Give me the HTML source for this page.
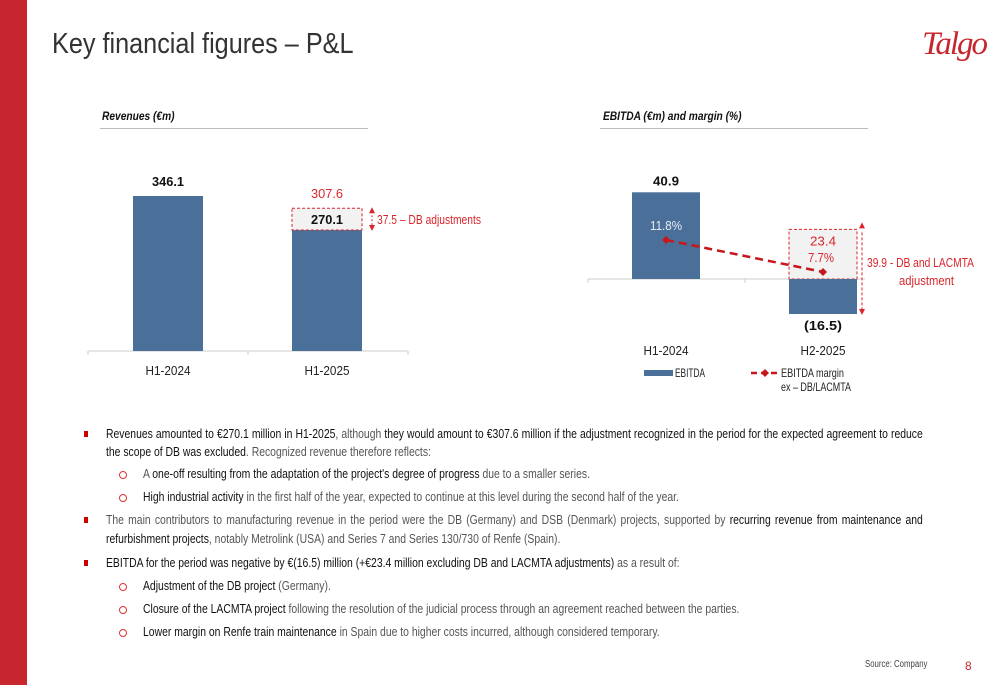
<!DOCTYPE html>
<html><head><meta charset="utf-8">
<style>
body{margin:0;width:1000px;height:685px;position:relative;background:#fff;overflow:hidden;font-family:"Liberation Sans",sans-serif;}
.abs{position:absolute;white-space:nowrap;}
.ln{position:absolute;font-size:13px;color:#555;white-space:nowrap;line-height:16px;transform:scaleX(0.8);transform-origin:0 0;}
.ln b{font-weight:normal;color:#111;}
.j{width:1021px;text-align:justify;text-align-last:justify;}
.sq{position:absolute;width:4px;height:6px;background:#c00;}
.ci{position:absolute;width:6px;height:6px;border:1px solid #d33;border-radius:50%;}
</style></head><body>
<div style="position:absolute;left:0;top:0;width:27px;height:685px;background:#c8262e"></div>
<div class="abs" style="left:52px;top:28px;font-size:29px;color:#333;transform:scaleX(0.87);transform-origin:0 0">Key financial figures – P&amp;L</div>
<div class="abs" style="left:922px;top:26px;font-size:33px;color:#c8262e;font-family:'Liberation Serif',serif;font-style:italic;letter-spacing:-2px">Talgo</div>

<div class="abs" style="left:102px;top:109px;font-size:12px;font-weight:bold;font-style:italic;color:#111;transform:scaleX(0.85);transform-origin:0 0">Revenues (€m)</div>
<div style="position:absolute;left:100px;top:128px;width:268px;height:1px;background:#bbb"></div>
<div class="abs" style="left:603px;top:109px;font-size:12px;font-weight:bold;font-style:italic;color:#111;transform:scaleX(0.85);transform-origin:0 0">EBITDA (€m) and margin (%)</div>
<div style="position:absolute;left:600px;top:128px;width:268px;height:1px;background:#bbb"></div>

<svg id="chart" width="1000" height="400" style="position:absolute;left:0;top:0" font-family="Liberation Sans, sans-serif"></svg>

<div class="sq" style="left:84px;top:431px"></div>
<div class="ln j" style="left:106px;top:426px"><b>Revenues amounted to €270.1 million in H1-2025</b>, although <b>they would amount to €307.6 million if the adjustment recognized in the period for the expected agreement to reduce</b></div>
<div class="ln" style="left:106px;top:444px"><b>the scope of DB was excluded</b>. Recognized revenue therefore reflects:</div>
<div class="ci" style="left:119px;top:471px"></div>
<div class="ln" style="left:143px;top:466px">A <b>one-off resulting from the adaptation of the project's degree of progress</b> due to a smaller series.</div>
<div class="ci" style="left:119px;top:494px"></div>
<div class="ln" style="left:143px;top:489px"><b>High industrial activity</b> in the first half of the year, expected to continue at this level during the second half of the year.</div>
<div class="sq" style="left:84px;top:517px"></div>
<div class="ln j" style="left:106px;top:512px">The main contributors to manufacturing revenue in the period were the DB (Germany) and DSB (Denmark) projects, supported by <b>recurring revenue from maintenance and</b></div>
<div class="ln" style="left:106px;top:531px"><b>refurbishment projects</b>, notably Metrolink (USA) and Series 7 and Series 130/730 of Renfe (Spain).</div>
<div class="sq" style="left:84px;top:560px"></div>
<div class="ln" style="left:106px;top:555px"><b>EBITDA for the period was negative by €(16.5) million (+€23.4 million excluding DB and LACMTA adjustments)</b> as a result of:</div>
<div class="ci" style="left:119px;top:583px"></div>
<div class="ln" style="left:143px;top:578px"><b>Adjustment of the DB project</b> (Germany).</div>
<div class="ci" style="left:119px;top:606px"></div>
<div class="ln" style="left:143px;top:601px"><b>Closure of the LACMTA project</b> following the resolution of the judicial process through an agreement reached between the parties.</div>
<div class="ci" style="left:119px;top:629px"></div>
<div class="ln" style="left:143px;top:624px"><b>Lower margin on Renfe train maintenance</b> in Spain due to higher costs incurred, although considered temporary.</div>

<div class="abs" style="left:865px;top:659px;font-size:10px;color:#444;transform:scaleX(0.78);transform-origin:0 0">Source: Company</div>
<div class="abs" style="left:965px;top:659px;font-size:12px;color:#c8262e">8</div>

<script>
const revCats = ["H1-2024","H1-2025"];
const revValues = [346.1, 270.1];
const revAdjusted = [null, 307.6];
const revLabels = ["346.1","270.1"];
const ebCats = ["H1-2024","H2-2025"];
const ebValues = [40.9, -16.5];
const ebAdjusted = [null, 23.4];
const ebLabels = ["40.9","(16.5)"];
const marginValues = [11.8, 7.7];
const marginLabels = ["11.8%","7.7%"];

const svg = document.getElementById('chart');
const NS = "http://www.w3.org/2000/svg";
function mk(t, a, txt){const e=document.createElementNS(NS,t);for(const k in a)e.setAttribute(k,a[k]);if(txt!==undefined){e.textContent=txt;if(t==='text'){const w=txt.length*6.4;e.setAttribute('textLength',a.tl||Math.round(w));e.setAttribute('lengthAdjust','spacingAndGlyphs');}}svg.appendChild(e);return e;}
const BLUE="#4a6f98", RED="#d9262c";

// Revenues chart
const rBase=351, rScale=155/346.1;
const rx = i => 133 + i*159;
const ry = v => rBase - v*rScale;
let e=mk('line',{x1:88,y1:rBase,x2:408,y2:rBase,stroke:'#ccc'});

[88,248,408].forEach(x=>mk('line',{x1:x,y1:rBase,x2:x,y2:rBase+4,stroke:'#ccc'}));
revValues.forEach((v,i)=>{
  const b=mk('rect',{x:rx(i),y:ry(v),width:70,height:rBase-ry(v),fill:BLUE});
  
  
  if(revAdjusted[i]!=null){
    const top=ry(revAdjusted[i])-5;
    const d=mk('rect',{x:rx(i),y:top,width:70,height:ry(v)-top,fill:'#f2f2f2',stroke:RED,'stroke-dasharray':'3,2'});
    
    
    mk('text',{x:rx(i)+35,y:top-10,'text-anchor':'middle','font-size':13,fill:RED},revAdjusted[i].toFixed(1));
    mk('line',{x1:rx(i)+80,y1:top+3,x2:rx(i)+80,y2:ry(v)-3,stroke:RED,'stroke-dasharray':'2,2'});
    mk('polygon',{points:`${rx(i)+77},${top+5} ${rx(i)+83},${top+5} ${rx(i)+80},${top-1}`,fill:RED});
    mk('polygon',{points:`${rx(i)+77},${ry(v)-5} ${rx(i)+83},${ry(v)-5} ${rx(i)+80},${ry(v)+1}`,fill:RED});
    const a=mk('text',{x:rx(i)+85,y:(top+ry(v))/2+5,'font-size':13,fill:RED,tl:104},(revAdjusted[i]-v).toFixed(1)+' – DB adjustments');
    
    
  }
  const l=mk('text',{x:rx(i)+35,'text-anchor':'middle','font-size':13,'font-weight':'bold',fill:'#111',y: revAdjusted[i]!=null ? ry(v)-6 : ry(v)-10},revLabels[i]);
  
  
  const c=mk('text',{x:rx(i)+35,y:375,'text-anchor':'middle','font-size':13,fill:'#222'},revCats[i]);
  
  
});

// EBITDA chart
const eBase=279, eScale=2.12;
const ex = i => 632 + i*157;
const ey = v => eBase - v*eScale;
const my = m => 332 - m*7.8;
e=mk('line',{x1:588,y1:eBase,x2:905,y2:eBase,stroke:'#ccc'});

[588,745].forEach(x=>mk('line',{x1:x,y1:eBase,x2:x,y2:eBase+4,stroke:'#ccc'}));
ebValues.forEach((v,i)=>{
  const y0=Math.min(ey(v),eBase), h=Math.abs(ey(v)-eBase);
  if(ebAdjusted[i]!=null){
    const top=ey(ebAdjusted[i]);
    const d=mk('rect',{x:ex(i),y:top,width:68,height:eBase-top,fill:'#f2f2f2',stroke:RED,'stroke-dasharray':'3,2'});
    
    
    mk('text',{x:ex(i)+34,y:top+16,'text-anchor':'middle','font-size':13,fill:RED},ebAdjusted[i].toFixed(1));
    const ax=ex(i)+73;
    mk('line',{x1:ax,y1:top+3,x2:ax,y2:ey(v)-3,stroke:RED,'stroke-dasharray':'3,2'});
    mk('polygon',{points:`${ax-3},${top-1} ${ax+3},${top-1} ${ax},${top-7}`,fill:RED});
    mk('polygon',{points:`${ax-3},${ey(v)-5} ${ax+3},${ey(v)-5} ${ax},${ey(v)+1}`,fill:RED});
    mk('rect',{x:ax+3,y:252,width:92,height:38,fill:'#fff'});
    const t1=mk('text',{x:ax+5,y:267,'font-size':13,fill:RED,tl:107},(ebAdjusted[i]-v).toFixed(1)+' - DB and LACMTA');
    
    
    mk('text',{x:ax+37,y:285,'font-size':13,fill:RED,tl:55},'adjustment');
  }
  const b=mk('rect',{x:ex(i),y:y0,width:68,height:h,fill:BLUE});
  
  
  const l=mk('text',{x:ex(i)+34,y: v>=0 ? ey(v)-7 : ey(v)+16,'text-anchor':'middle','font-size':13,'font-weight':'bold',fill:'#111'},ebLabels[i]);
  
  
  const c=mk('text',{x:ex(i)+34,y:355,'text-anchor':'middle','font-size':13,fill:'#222'},ebCats[i]);
  
  
});
// margin line
const pts=marginValues.map((m,i)=>[ex(i)+34,my(m)]);
const ml=mk('polyline',{points:pts.map(p=>p.join(',')).join(' '),fill:'none',stroke:'#c8161d','stroke-width':2.5,'stroke-dasharray':'8,5'});


pts.forEach((p,i)=>{
  const pt=mk('path',{d:`M${p[0]-4},${p[1]} L${p[0]},${p[1]-4} L${p[0]+4},${p[1]} L${p[0]},${p[1]+4}Z`,fill:'#c8161d'});
  
  
  const t=mk('text',{x:p[0]-(i==0?0:2),y:p[1]-10,'text-anchor':'middle','font-size':13,fill:i==0?'#e8eef6':RED},marginLabels[i]);
  
  
});
// legend
e=mk('rect',{x:644,y:370,width:29,height:6,fill:BLUE});

mk('text',{x:675,y:377,'font-size':12,fill:'#222',tl:30},'EBITDA');
e=mk('line',{x1:751,y1:373,x2:779,y2:373,stroke:'#c8161d','stroke-width':2.5,'stroke-dasharray':'6,4'});

mk('path',{d:'M761,373 L765,369 L769,373 L765,377Z',fill:'#c8161d'});
mk('text',{x:781,y:377,'font-size':12,fill:'#222',tl:63},'EBITDA margin');
mk('text',{x:781,y:391,'font-size':12,fill:'#222',tl:70},'ex – DB/LACMTA');
</script>
</body></html>
